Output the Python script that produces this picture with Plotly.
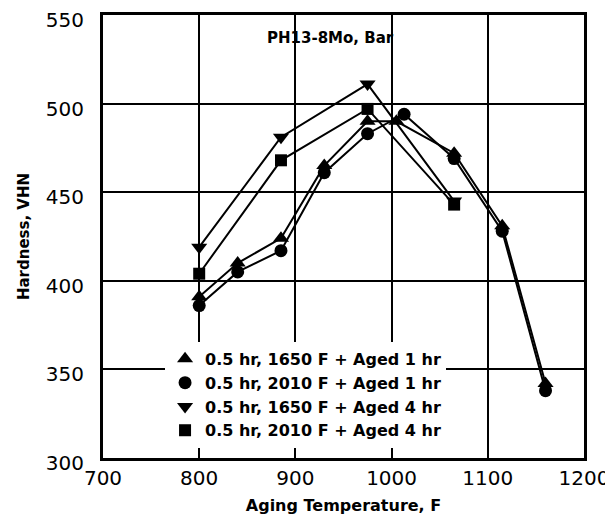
import plotly.graph_objects as go

# Aging temperature (F) and hardness (VHN)
temp_t1 = [800, 840, 885, 930, 975, 1005, 1065, 1115, 1160]
hard_t1 = [391, 410, 424, 465, 490, 490, 472, 431, 342]   # 0.5 hr, 1650 F + Aged 1 hr

temp_c1 = [800, 840, 885, 930, 975, 1013, 1065, 1115, 1160]
hard_c1 = [386, 405, 417, 461, 483, 494, 469, 428, 338]   # 0.5 hr, 2010 F + Aged 1 hr

temp_4 = [800, 885, 975, 1065]
hard_t4 = [419, 481, 511, 445]   # 0.5 hr, 1650 F + Aged 4 hr
hard_s4 = [404, 468, 497, 443]   # 0.5 hr, 2010 F + Aged 4 hr

names = ["0.5 hr, 1650 F + Aged 1 hr", "0.5 hr, 2010 F + Aged 1 hr",
         "0.5 hr, 1650 F + Aged 4 hr", "0.5 hr, 2010 F + Aged 4 hr"]

x_ticks = [700, 800, 900, 1000, 1100, 1200]
x_tick_text = ["700", "800", "900", "1000", "1100", "1200"]
y_ticks = [300, 350, 400, 450, 500, 550]

series = [
    (temp_t1, hard_t1, "triangle-up", 14),
    (temp_c1, hard_c1, "circle", 13),
    (temp_4, hard_t4, "triangle-down", 14),
    (temp_4, hard_s4, "square", 12),
]

fig = go.Figure()
# connecting lines (not in legend)
for xs, ys, sym, sz in series:
    fig.add_trace(go.Scatter(
        x=xs, y=ys, mode="lines", showlegend=False, hoverinfo="skip",
        line=dict(color="black", width=2),
    ))
# markers (legend entries show symbol only)
for (xs, ys, sym, sz), nm in zip(series, names):
    fig.add_trace(go.Scatter(
        x=xs, y=ys, name=nm, mode="markers",
        marker=dict(symbol=sym, size=sz, color="black"),
    ))

fig.add_annotation(x=936, y=537, text="PH13-8Mo, Bar", showarrow=False,
                   font=dict(family="DejaVu Sans", size=15, color="black", weight="bold"))

fig.update_layout(
    width=605, height=508,
    margin=dict(l=95, r=29, t=7, b=58),
    paper_bgcolor="white", plot_bgcolor="white",
    font=dict(family="DejaVu Sans", color="black"),
    showlegend=True,
    legend=dict(x=0.129, y=0.262, xanchor="left", yanchor="top",
                bgcolor="white", borderwidth=0,
                font=dict(family="DejaVu Sans", size=16, color="black", weight="bold"),
                tracegroupgap=0),
)
fig.update_xaxes(range=[700, 1200], tickvals=x_ticks, ticktext=x_tick_text,
                 automargin=False, ticklabeloverflow="allow",
                 showgrid=True, gridcolor="black", gridwidth=1.5,
                 showline=True, linecolor="black", linewidth=3, mirror=True,
                 zeroline=False, ticks="",
                 tickfont=dict(family="DejaVu Sans", size=20, color="black"),
                 title=dict(text="Aging Temperature, F", standoff=11,
                            font=dict(family="DejaVu Sans", size=16, color="black", weight="bold")))
fig.update_yaxes(range=[300, 550], tickvals=y_ticks,
                 automargin=False, ticklabeloverflow="allow", ticklabelshift=5,
                 showgrid=True, gridcolor="black", gridwidth=1.5,
                 showline=True, linecolor="black", linewidth=3, mirror=True,
                 zeroline=False, ticks="", ticklabelstandoff=12,
                 tickfont=dict(family="DejaVu Sans", size=20, color="black"),
                 title=dict(text="Hardness, VHN", standoff=13,
                            font=dict(family="DejaVu Sans", size=15, color="black", weight="bold")))

fig.write_html("out.html")
